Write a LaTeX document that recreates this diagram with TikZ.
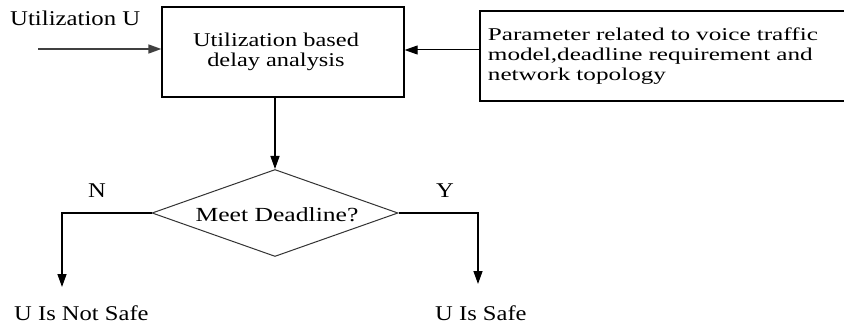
\documentclass[tikz,border=0pt]{standalone}
\usepackage{fontspec}
\setmainfont{Liberation Serif}
\newfontfamily\fwa[FakeStretch=1.25]{Liberation Serif}
\newfontfamily\fwb[FakeStretch=1.40]{Liberation Serif}
\newfontfamily\fwc[FakeStretch=1.17]{Liberation Serif}
\newfontfamily\fwd[FakeStretch=1.28]{Liberation Serif}
\newfontfamily\fwe[FakeStretch=1.18]{Liberation Serif}
\usetikzlibrary{arrows.meta,shapes.geometric}
\begin{document}
\begin{tikzpicture}[x=1pt,y=-1pt,
  arr/.style={line width=1.4pt,-{Triangle[length=13pt,width=9pt]}},
  boxmain/.style={draw,line width=1.3pt,minimum width=242pt,minimum height=90pt,inner sep=0pt,align=center,
     font=\fwa\fontsize{19.5}{20}\selectfont},
  boxpar/.style={draw,line width=1.8pt,minimum width=371pt,minimum height=90pt,anchor=north west,
     text width=355pt,inner xsep=6pt,inner ysep=7pt,align=left,
     font=\fwb\fontsize{18}{20}\selectfont},
  decision/.style={diamond,draw,line width=1pt,draw=black!80,minimum width=246pt,minimum height=87pt,inner sep=0pt},
  lbl/.style={inner sep=0pt,font=\fwc\fontsize{21}{22}\selectfont}]
\useasboundingbox (0,0) rectangle (844,326);
\fill[white] (0,0) rectangle (844,326);
\node[boxmain] (main) at (283,52) {Utilization based\hspace*{14pt}\\delay analysis\hspace*{14pt}};
\node[boxpar] (par) at (479,10) {Parameter related to voice traffic\\model,deadline requirement and\\network topology};
\node[decision] (dia) at (275,213) {};
\node[inner sep=0pt,anchor=base,font=\fwd\fontsize{20}{22}\selectfont] (dtext) at (277,222) {Meet Deadline?};
\node[lbl,anchor=base west,font=\fwe\fontsize{21}{22}\selectfont] (ulab) at (10,26) {Utilization U};
\node[lbl,anchor=base] (nlab) at (97,197) {N};
\node[lbl,anchor=base] (ylab) at (445,198) {Y};
\node[lbl,anchor=base west] (notsafe) at (14,320) {U Is Not Safe};
\node[lbl,anchor=base west] (safe) at (435,320) {U Is Safe};
\coordinate (uin) at (38,49);
\coordinate (nend) at (62,287);
\coordinate (yend) at (478,284);
\draw[arr,line width=1.6pt,draw=black!75] (uin) -- (uin -| main.west);
\draw[arr,line width=1pt] (par.west |- 0,50) -- (main.east |- 0,50);
\draw[arr] (dia.north |- main.south) -- (dia.north);
\draw[arr] (dia.west) -| (nend);
\draw[arr] (dia.east) -| (yend);
\end{tikzpicture}
\end{document}
